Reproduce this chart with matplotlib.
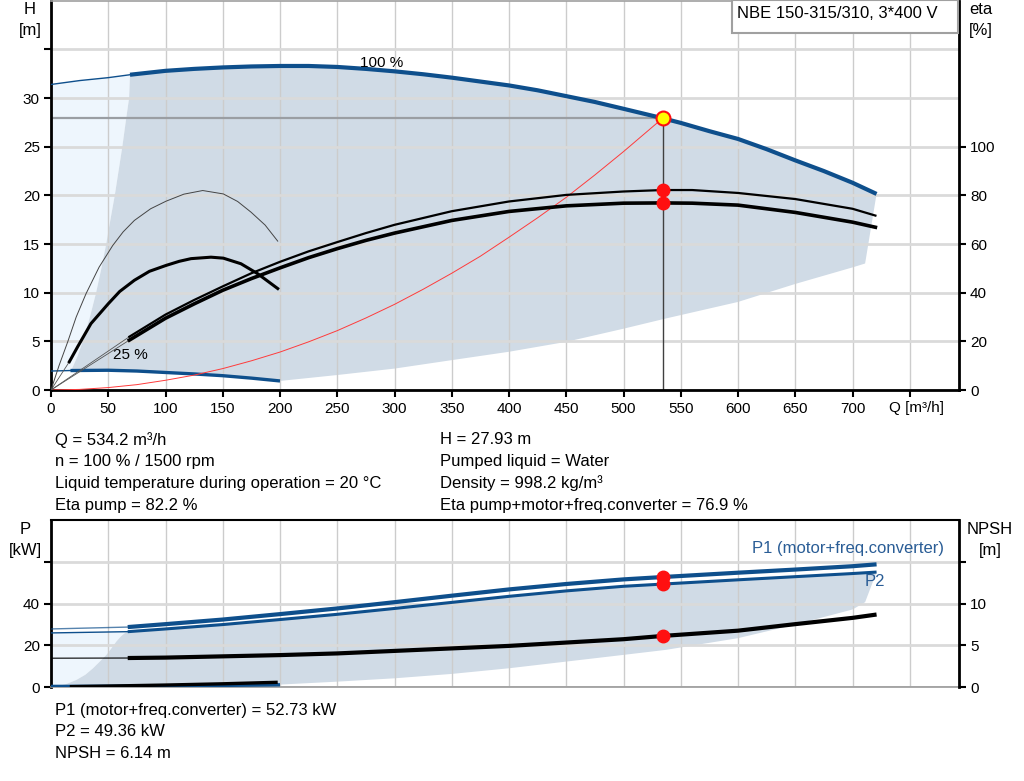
import numpy as np
import matplotlib
matplotlib.use('Agg')
import matplotlib.pyplot as plt

plt.rcParams['font.family'] = ['Liberation Sans', 'DejaVu Sans']
plt.rcParams['font.size'] = 12

BLUE = '#0e4f8c'
TXT_BLUE = '#2a5d96'
FILL_DARK = '#d0dbe6'
FILL_LIGHT = '#eef6fd'
TICK_FS = 11

# ---- head curves (H in m) ----
q_h100 = [0, 25, 50, 69, 100, 125, 150, 175, 200, 225, 250, 275, 300, 325, 350, 375, 400,
          425, 450, 475, 500, 534.2, 550, 575, 600, 625, 650, 675, 700, 721]
h100 = [31.4, 31.8, 32.1, 32.4, 32.8, 33.0, 33.15, 33.25, 33.3, 33.3, 33.2, 33.0, 32.75, 32.45,
        32.1, 31.7, 31.3, 30.8, 30.2, 29.6, 28.9, 27.93, 27.45, 26.6, 25.8, 24.75, 23.6, 22.5,
        21.3, 20.15]
N_THIN = 4  # points of the 100 % curve drawn thin
q_h25 = [0, 17, 50, 75, 100, 125, 150, 175, 200]
h25 = [1.95, 2.0, 2.03, 1.95, 1.8, 1.65, 1.47, 1.22, 0.93]

# operating range boundaries (top chart)
q_left = [17.6, 23.3, 27.7, 34.0, 39.2, 44.0, 48.2, 51.9, 55.7, 59.0, 62.3, 65.2, 68.2, 69]
h_left = [2.0, 3.5, 5.0, 7.5, 9.9, 12.5, 15.0, 17.5, 20.0, 22.5, 25.0, 27.5, 30.0, 32.4]
q_low = [200, 250, 300, 350, 400, 450, 500, 537, 600, 650, 700, 711]
h_low = [0.93, 1.54, 2.2, 3.07, 3.93, 4.95, 6.3, 7.35, 9.05, 10.9, 12.6, 13.0]

# system curve
q_sys = [0, 25, 50, 75, 100, 125, 150, 175, 200, 225, 250, 275, 300, 325, 350, 375, 400,
         425, 450, 475, 500, 534.2]
h_sys = [0, 0.06, 0.25, 0.55, 1.0, 1.53, 2.2, 3.0, 3.9, 4.95, 6.1, 7.4, 8.8, 10.35, 12.0,
         13.75, 15.7, 17.7, 19.8, 22.1, 24.5, 27.93]

# ---- efficiency curves (%) ----
q_eta = [68.4, 100, 125, 150, 175, 200, 225, 250, 275, 300, 350, 400, 450, 500, 534.2, 560,
         600, 650, 700, 720]
eta_pump = [21.9, 31.0, 37.0, 42.6, 48.0, 52.7, 57.0, 60.8, 64.5, 67.9, 73.5, 77.5, 80.2,
            81.6, 82.2, 82.2, 81.0, 78.5, 74.5, 71.7]
eta_total = [20.5, 29.5, 35.4, 41.0, 45.8, 50.2, 54.4, 58.1, 61.5, 64.5, 69.7, 73.4, 75.7,
             76.8, 76.9, 76.8, 76.0, 73.0, 69.0, 66.9]
q_eta25p = [0, 7, 14.6, 22, 30.6, 42, 53.9, 63, 72.8, 87, 100.4, 116, 132.5, 150.5, 163,
            174.7, 187, 198]
eta25_pump = [0, 10, 19.8, 30, 39.6, 50.5, 59.4, 65.0, 69.7, 74.5, 77.6, 80.5, 82.0, 80.6,
              77.5, 73.1, 67.8, 61.2]
q_eta25t = [16.0, 23.3, 34.9, 50.1, 60, 72.8, 86, 100.4, 112, 122.3, 139.7, 150.5, 165.9,
            180.5, 198]
eta25_total = [11.6, 17.8, 27.3, 35.5, 40.5, 45.1, 48.8, 51.2, 52.9, 54.0, 54.6, 54.2, 51.9,
               47.8, 41.7]

# ---- power (kW) and NPSH (m) ----
q_p = [0, 67, 100, 150, 200, 250, 300, 350, 400, 450, 500, 534.2, 600, 650, 700, 721]
p1 = [27.9, 28.8, 30.2, 32.4, 35.0, 37.7, 40.7, 43.8, 46.8, 49.4, 51.6, 52.73, 54.8, 56.3, 57.9, 58.8]
p2 = [26.0, 26.6, 27.9, 30.0, 32.4, 34.9, 37.7, 40.6, 43.5, 46.1, 48.3, 49.36, 51.4, 52.9, 54.4, 55.1]
npsh = [3.48, 3.5, 3.55, 3.7, 3.85, 4.05, 4.35, 4.65, 4.95, 5.35, 5.75, 6.14, 6.77, 7.55, 8.3, 8.7]
q_p25 = [0, 17, 50, 100, 150, 200]
p1_25 = [0.44, 0.45, 0.5, 0.65, 0.9, 1.2]
q_npsh25 = [16.4, 50, 100, 150, 198]
npsh25 = [0.08, 0.15, 0.27, 0.42, 0.6]

q_pleft = [4.7, 13, 22.1, 30, 36.7, 43, 48.4, 53, 57.1, 61, 64, 67]
p_pleft = [0.44, 1.5, 3.5, 6.0, 9.1, 12.5, 15.5, 18.8, 21.9, 24.3, 25.7, 26.6]
q_plow = [200, 250, 300, 350, 400, 450, 500, 537, 600, 650, 700, 711]
p_plow = [1.3, 2.7, 4.3, 6.4, 9.1, 12.3, 15.5, 17.9, 23.5, 30.0, 37.2, 40.7]

# operating point
q_op = 534.2
h_op = 27.93
eta_op = [82.2, 76.9]
p_op = [52.73, 49.36]
npsh_op = 6.14

x_ticks = np.arange(0, 751, 50)
x_labels = [str(v) for v in x_ticks[:-1]] + ['']

W, H = 1024, 781
fig = plt.figure(figsize=(W / 100, H / 100), dpi=100)


def fx(px):
    return px / W


def fy(py):
    return 1 - py / H


def style_axes(ax, ax2, top_color, bottom_color):
    ax.spines['left'].set_linewidth(2)
    ax.spines['right'].set_visible(False)
    ax.spines['top'].set_color(top_color)
    ax.spines['top'].set_linewidth(1.2)
    ax.spines['bottom'].set_color(bottom_color)
    ax.spines['bottom'].set_linewidth(2 if bottom_color == 'black' else 1.2)
    for s in ['left', 'top', 'bottom']:
        ax2.spines[s].set_visible(False)
    ax2.spines['right'].set_linewidth(2)
    ax.tick_params(axis='y', direction='out', length=5, width=1.5, pad=3, labelsize=TICK_FS)
    ax2.tick_params(axis='y', direction='out', length=5, width=1.5, pad=3, labelsize=TICK_FS)
    ax.set_axisbelow('line')
    ax.set_xticks(x_ticks)
    ax.grid(axis='x', color='#cccccc', lw=1)
    ax.grid(axis='y', color='#dadada', lw=2)


# ================= top chart: head / efficiency =================
ax = fig.add_axes([fx(51), fy(390), fx(908), 390 / H - 0.001])
ax2 = ax.twinx()
ax.set_xlim(0, 793)
ax.set_ylim(0, 40)
ax2.set_ylim(0, 160)
style_axes(ax, ax2, '#a0a0a0', 'black')

ax.set_yticks(np.arange(0, 36, 5))
ax.set_yticklabels(['0', '5', '10', '15', '20', '25', '30', ''])
ax2.set_yticks(np.arange(0, 101, 20))
ax.set_xticklabels(x_labels)
ax.tick_params(axis='x', direction='out', length=5, width=1.5, pad=3.5, labelsize=TICK_FS)

# operating range fills
light_q = [0] + q_h100[:N_THIN] + q_left[::-1] + [0]
light_h = [h25[0]] + h100[:N_THIN] + h_left[::-1] + [h25[0]]
ax.fill(light_q, light_h, color=FILL_LIGHT, lw=0, zorder=0.8)
dark_q = q_h100[N_THIN - 1:] + q_low[::-1] + q_h25[1:][::-1] + q_left
dark_h = h100[N_THIN - 1:] + h_low[::-1] + h25[1:][::-1] + h_left
ax.fill(dark_q, dark_h, color=FILL_DARK, lw=0, zorder=0.9)

# head curves
ax.plot(q_h100[:N_THIN], h100[:N_THIN], color=BLUE, lw=1, zorder=3)
ax.plot(q_h100[N_THIN - 1:], h100[N_THIN - 1:], color=BLUE, lw=3, zorder=3, solid_capstyle='butt')
ax.plot(q_h25[:2], h25[:2], color=BLUE, lw=1, zorder=3)
ax.plot(q_h25[1:], h25[1:], color=BLUE, lw=2.4, zorder=3, solid_capstyle='butt')

# system curve and operating point lines
ax.plot(q_sys, h_sys, color='#ff3b3b', lw=0.7, zorder=3)
ax.plot([0, q_op], [h_op, h_op], color='#9a9ea3', lw=1.6, zorder=2.5)
ax.plot([q_op, q_op], [0, h_op], color='#404040', lw=1, zorder=2.5)

# efficiency curves
ax2.plot([0, q_eta[0]], [0, eta_pump[0]], color='#555555', lw=0.6)
ax2.plot([0, q_eta[0]], [0, eta_total[0]], color='#555555', lw=0.6)
ax2.plot([0, q_eta25t[0]], [0, eta25_total[0]], color='#555555', lw=0.6)
ax2.plot(q_eta, eta_pump, color='black', lw=1.6)
ax2.plot(q_eta, eta_total, color='black', lw=2.6)
ax2.plot(q_eta25p, eta25_pump, color='#444444', lw=0.7)
ax2.plot(q_eta25t, eta25_total, color='black', lw=2.2)
ax2.plot([q_op, q_op], eta_op, 'o', color='#ff1010', ms=9, mec='#ff1010', zorder=5)
ax2.plot([q_op], [h_op * 4], 'o', color='#ffff00', ms=10, mec='#ff1010', mew=1.5, zorder=6)

ax.text(270, 33.6, '100 %', fontsize=11, va='center', zorder=4)
ax.text(54, 3.6, '25 %', fontsize=11, va='center', zorder=4)
ax.text(732, -1.9, 'Q [m³/h]', fontsize=TICK_FS, va='center', ha='left')

fig.text(fx(30), fy(10), 'H', ha='center', va='center')
fig.text(fx(30), fy(30), '[m]', ha='center', va='center')
fig.text(fx(981), fy(10), 'eta', ha='center', va='center')
fig.text(fx(981), fy(30), '[%]', ha='center', va='center')
box = plt.Rectangle((fx(732), fy(33)), fx(226), 33 / H, transform=fig.transFigure,
                    fc='white', ec='#a0a0a0', lw=1.5, zorder=5)
fig.add_artist(box)
title = fig.text(fx(737), fy(14), 'NBE 150-315/310, 3*400 V', ha='left', va='center')
title.set_zorder(6)

# info text
info_left = ['Q = 534.2 m³/h', 'n = 100 % / 1500 rpm',
             'Liquid temperature during operation = 20 °C', 'Eta pump = 82.2 %']
info_right = ['H = 27.93 m', 'Pumped liquid = Water', 'Density = 998.2 kg/m³',
              'Eta pump+motor+freq.converter = 76.9 %']
for i, (a, b) in enumerate(zip(info_left, info_right)):
    yy = 440 + i * 21.7
    fig.text(fx(55), fy(yy), a, va='center')
    fig.text(fx(440), fy(yy), b, va='center')

# ================= bottom chart: power / NPSH =================
bx = fig.add_axes([fx(51), fy(687.3), fx(908), 167.3 / H])
bx2 = bx.twinx()
bx.set_xlim(0, 793)
bx.set_ylim(0, 80)
bx2.set_ylim(0, 20)
style_axes(bx, bx2, 'black', '#9a9a9a')
bx.spines['top'].set_linewidth(1.5)
bx.set_xticklabels([])
bx.tick_params(axis='x', length=0)
bx.set_yticks([0, 20, 40, 60])
bx.set_yticklabels(['0', '20', '40', ''])
bx2.set_yticks([0, 5, 10, 15])
bx2.set_yticklabels(['0', '5', '10', ''])

light_q = [0] + q_p[:2] + q_pleft[::-1] + [0]
light_p = [p1_25[0]] + p2[:2] + p_pleft[::-1] + [p1_25[0]]
bx.fill(light_q, light_p, color=FILL_LIGHT, lw=0, zorder=0.8)
dark_q = q_p[1:] + q_plow[::-1] + q_p25[1:][::-1] + q_pleft
dark_p = p2[1:] + p_plow[::-1] + p1_25[1:][::-1] + p_pleft
bx.fill(dark_q, dark_p, color=FILL_DARK, lw=0, zorder=0.9)

bx.plot(q_p[:2], p1[:2], color=BLUE, lw=1, alpha=0.7, zorder=3)
bx.plot(q_p[:2], p2[:2], color=BLUE, lw=1, zorder=3)
bx.plot(q_p[1:], p1[1:], color=BLUE, lw=3, zorder=3, solid_capstyle='butt')
bx.plot(q_p[1:], p2[1:], color=BLUE, lw=2.2, zorder=3, solid_capstyle='butt')
bx.plot(q_p25, p1_25, color=BLUE, lw=2.4, zorder=3, solid_capstyle='butt')

bx2.plot([0, q_p[1]], npsh[:2], color='black', lw=0.8)
bx2.plot(q_p[1:], npsh[1:], color='black', lw=3, solid_capstyle='butt')
bx2.plot(q_npsh25, npsh25, color='black', lw=2.4, solid_capstyle='butt')
bx.plot([q_op, q_op], p_op, 'o', color='#ff1010', ms=9, zorder=5)
bx2.plot([q_op], [npsh_op], 'o', color='#ff1010', ms=9, zorder=5)

fig.text(fx(752), fy(549), 'P1 (motor+freq.converter)', color=TXT_BLUE, va='center')
fig.text(fx(865), fy(582), 'P2', color=TXT_BLUE, va='center')
fig.text(fx(25), fy(530), 'P', ha='center', va='center')
fig.text(fx(25), fy(551), '[kW]', ha='center', va='center')
fig.text(fx(990), fy(529), 'NPSH', ha='center', va='center')
fig.text(fx(990), fy(550), '[m]', ha='center', va='center')

info_bottom = ['P1 (motor+freq.converter) = 52.73 kW', 'P2 = 49.36 kW', 'NPSH = 6.14 m']
for i, t in enumerate(info_bottom):
    fig.text(fx(55), fy(710 + i * 21.7), t, va='center')

fig.savefig('out.png', dpi=100)
